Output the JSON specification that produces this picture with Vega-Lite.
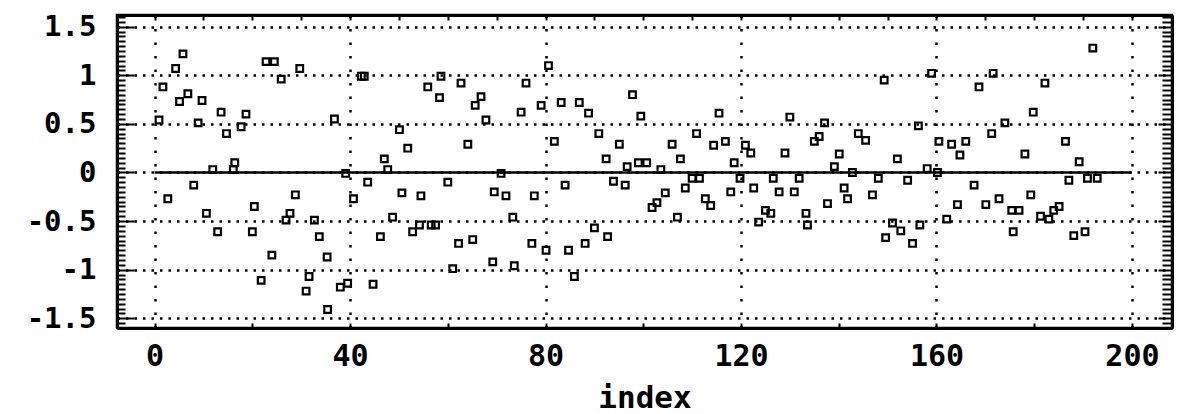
{
  "$schema": "https://vega.github.io/schema/vega-lite/v6.json",
  "width": 1055,
  "height": 313,
  "autosize": "none",
  "padding": {"left": 117, "top": 15, "right": 5, "bottom": 86},
  "background": "white",
  "config": {"view": {"stroke": "black", "strokeWidth": 2.5}, "font": "DejaVu Sans Mono"},
  "data": {"values": [
    {"index": 0.9, "value": 0.54}, {"index": 1.7, "value": 0.88}, {"index": 2.7, "value": -0.27}, {"index": 4.3, "value": 1.07},
    {"index": 5.1, "value": 0.73}, {"index": 5.8, "value": 1.22}, {"index": 6.8, "value": 0.81}, {"index": 8.0, "value": -0.13},
    {"index": 8.9, "value": 0.51}, {"index": 9.7, "value": 0.74}, {"index": 10.6, "value": -0.42}, {"index": 11.9, "value": 0.03},
    {"index": 12.9, "value": -0.61}, {"index": 13.6, "value": 0.62}, {"index": 14.7, "value": 0.40}, {"index": 16.1, "value": 0.03},
    {"index": 16.4, "value": 0.10}, {"index": 17.7, "value": 0.47}, {"index": 18.7, "value": 0.60}, {"index": 20.0, "value": -0.61},
    {"index": 20.4, "value": -0.35}, {"index": 21.8, "value": -1.11}, {"index": 22.8, "value": 1.14}, {"index": 24.0, "value": -0.85},
    {"index": 24.5, "value": 1.14}, {"index": 25.9, "value": 0.96}, {"index": 26.9, "value": -0.49}, {"index": 27.7, "value": -0.42},
    {"index": 28.8, "value": -0.23}, {"index": 29.7, "value": 1.07}, {"index": 31.0, "value": -1.22}, {"index": 31.6, "value": -1.07},
    {"index": 32.7, "value": -0.49}, {"index": 33.7, "value": -0.66}, {"index": 35.3, "value": -0.87}, {"index": 35.4, "value": -1.41},
    {"index": 36.8, "value": 0.55}, {"index": 38.0, "value": -1.18}, {"index": 39.1, "value": -0.01}, {"index": 39.5, "value": -1.14},
    {"index": 40.7, "value": -0.27}, {"index": 42.3, "value": 0.99}, {"index": 42.9, "value": 0.99}, {"index": 43.6, "value": -0.10},
    {"index": 44.7, "value": -1.15}, {"index": 46.2, "value": -0.66}, {"index": 47.0, "value": 0.14}, {"index": 47.7, "value": 0.03},
    {"index": 48.7, "value": -0.46}, {"index": 50.1, "value": 0.44}, {"index": 50.6, "value": -0.21}, {"index": 51.8, "value": 0.25},
    {"index": 52.8, "value": -0.61}, {"index": 54.2, "value": -0.54}, {"index": 54.5, "value": -0.24}, {"index": 55.9, "value": 0.88},
    {"index": 56.6, "value": -0.54}, {"index": 57.5, "value": -0.54}, {"index": 58.3, "value": 0.77}, {"index": 58.6, "value": 0.99},
    {"index": 60.0, "value": -0.10}, {"index": 61.0, "value": -0.99}, {"index": 62.2, "value": -0.73}, {"index": 62.7, "value": 0.92},
    {"index": 64.1, "value": 0.29}, {"index": 65.1, "value": -0.69}, {"index": 65.6, "value": 0.69}, {"index": 66.8, "value": 0.78},
    {"index": 67.8, "value": 0.54}, {"index": 69.2, "value": -0.92}, {"index": 69.5, "value": -0.20}, {"index": 70.9, "value": -0.01},
    {"index": 71.9, "value": -0.24}, {"index": 73.3, "value": -0.46}, {"index": 73.6, "value": -0.96}, {"index": 75.0, "value": 0.62},
    {"index": 76.0, "value": 0.92}, {"index": 77.2, "value": -0.73}, {"index": 77.7, "value": -0.24}, {"index": 79.1, "value": 0.69},
    {"index": 80.1, "value": -0.80}, {"index": 80.6, "value": 1.10}, {"index": 81.8, "value": 0.32}, {"index": 83.2, "value": 0.72},
    {"index": 84.0, "value": -0.13}, {"index": 84.7, "value": -0.80}, {"index": 85.9, "value": -1.07}, {"index": 86.9, "value": 0.72},
    {"index": 88.1, "value": -0.73}, {"index": 88.8, "value": 0.61}, {"index": 90.0, "value": -0.57}, {"index": 90.9, "value": 0.40},
    {"index": 92.4, "value": 0.14}, {"index": 92.7, "value": -0.66}, {"index": 93.9, "value": -0.09}, {"index": 95.1, "value": 0.29},
    {"index": 96.3, "value": -0.13}, {"index": 96.7, "value": 0.06}, {"index": 97.8, "value": 0.80}, {"index": 99.0, "value": 0.10},
    {"index": 99.5, "value": 0.58}, {"index": 100.7, "value": 0.10}, {"index": 101.8, "value": -0.36}, {"index": 102.8, "value": -0.31},
    {"index": 103.6, "value": 0.03}, {"index": 104.5, "value": -0.21}, {"index": 105.9, "value": 0.29}, {"index": 107.0, "value": -0.46},
    {"index": 107.6, "value": 0.14}, {"index": 108.6, "value": -0.16}, {"index": 110.0, "value": -0.06}, {"index": 110.9, "value": 0.40},
    {"index": 111.5, "value": -0.06}, {"index": 112.7, "value": -0.27}, {"index": 113.8, "value": -0.34}, {"index": 114.4, "value": 0.28},
    {"index": 115.5, "value": 0.61}, {"index": 116.8, "value": 0.32}, {"index": 117.9, "value": -0.20}, {"index": 118.6, "value": 0.10},
    {"index": 119.8, "value": -0.06}, {"index": 120.9, "value": 0.28}, {"index": 122.0, "value": 0.20}, {"index": 122.6, "value": -0.16},
    {"index": 123.6, "value": -0.51}, {"index": 125.0, "value": -0.39}, {"index": 126.1, "value": -0.42}, {"index": 126.6, "value": -0.06},
    {"index": 127.8, "value": -0.20}, {"index": 129.0, "value": 0.20}, {"index": 130.0, "value": 0.57}, {"index": 130.9, "value": -0.20},
    {"index": 131.9, "value": -0.06}, {"index": 133.3, "value": -0.42}, {"index": 133.6, "value": -0.54}, {"index": 135.0, "value": 0.32},
    {"index": 136.0, "value": 0.37}, {"index": 137.1, "value": 0.51}, {"index": 137.7, "value": -0.32}, {"index": 139.1, "value": 0.06},
    {"index": 140.1, "value": 0.19}, {"index": 141.1, "value": -0.16}, {"index": 141.8, "value": -0.27}, {"index": 142.8, "value": 0.00},
    {"index": 144.0, "value": 0.40}, {"index": 145.5, "value": 0.33}, {"index": 146.9, "value": -0.23}, {"index": 148.1, "value": -0.06},
    {"index": 149.3, "value": 0.95}, {"index": 149.6, "value": -0.67}, {"index": 151.0, "value": -0.52}, {"index": 152.0, "value": 0.14},
    {"index": 152.7, "value": -0.60}, {"index": 154.1, "value": -0.08}, {"index": 155.1, "value": -0.73}, {"index": 156.3, "value": 0.48},
    {"index": 156.6, "value": -0.54}, {"index": 158.1, "value": 0.04}, {"index": 159.0, "value": 1.02}, {"index": 160.2, "value": 0.00},
    {"index": 160.5, "value": 0.32}, {"index": 162.1, "value": -0.48}, {"index": 163.1, "value": 0.29}, {"index": 164.3, "value": -0.33},
    {"index": 164.8, "value": 0.18}, {"index": 166.0, "value": 0.32}, {"index": 167.7, "value": -0.13}, {"index": 168.7, "value": 0.88},
    {"index": 170.1, "value": -0.33}, {"index": 171.3, "value": 0.40}, {"index": 171.6, "value": 1.02}, {"index": 172.8, "value": -0.27},
    {"index": 174.0, "value": 0.51}, {"index": 175.4, "value": -0.39}, {"index": 175.7, "value": -0.61}, {"index": 176.9, "value": -0.39},
    {"index": 178.1, "value": 0.19}, {"index": 179.3, "value": -0.23}, {"index": 179.8, "value": 0.62}, {"index": 181.3, "value": -0.45},
    {"index": 182.2, "value": 0.92}, {"index": 183.0, "value": -0.48}, {"index": 184.0, "value": -0.39}, {"index": 185.1, "value": -0.35},
    {"index": 186.4, "value": 0.32}, {"index": 187.1, "value": -0.08}, {"index": 188.1, "value": -0.65}, {"index": 189.2, "value": 0.11},
    {"index": 190.4, "value": -0.61}, {"index": 190.9, "value": -0.06}, {"index": 192.0, "value": 1.28}, {"index": 192.9, "value": -0.06}
  ]},
  "layer": [
    {
      "mark": {"type": "point", "shape": "square", "filled": false, "color": "black", "strokeWidth": 2.2, "size": 44, "opacity": 1},
      "encoding": {
        "x": {
          "field": "index", "type": "quantitative",
          "scale": {"domain": [-7.7, 208.2], "nice": false, "zero": false},
          "axis": {
            "orient": "bottom",
            "values": [0, 20, 40, 60, 80, 100, 120, 140, 160, 180, 200],
            "labelExpr": "datum.value % 40 == 0 ? '' + datum.value : ''",
            "grid": true,
            "gridOpacity": {"condition": {"test": "datum.value % 40 == 0", "value": 1}, "value": 0},
            "gridColor": "black", "gridDash": [2.5, 11], "gridWidth": 2.5,
            "tickSize": -5, "tickColor": "black", "tickWidth": 2,
            "domain": true, "domainColor": "black", "domainWidth": 3,
            "labelFont": "DejaVu Sans Mono", "labelFontSize": 30, "labelFontWeight": "bold", "labelColor": "black",
            "labelPadding": 18,
            "title": "index", "titleFont": "DejaVu Sans Mono", "titleFontSize": 31, "titleFontWeight": "bold", "titleColor": "black",
            "titlePadding": 12
          }
        },
        "y": {
          "field": "value", "type": "quantitative",
          "scale": {"domain": [-1.6, 1.62], "nice": false, "zero": false},
          "axis": {
            "orient": "left",
            "values": [-1.6,-1.55,-1.5,-1.45,-1.4,-1.35,-1.3,-1.25,-1.2,-1.15,-1.1,-1.05,-1,-0.95,-0.9,-0.85,-0.8,-0.75,-0.7,-0.65,-0.6,-0.55,-0.5,-0.45,-0.4,-0.35,-0.3,-0.25,-0.2,-0.15,-0.1,-0.05,0,0.05,0.1,0.15,0.2,0.25,0.3,0.35,0.4,0.45,0.5,0.55,0.6,0.65,0.7,0.75,0.8,0.85,0.9,0.95,1,1.05,1.1,1.15,1.2,1.25,1.3,1.35,1.4,1.45,1.5,1.55,1.6],
            "labelExpr": "abs(datum.value * 2 - round(datum.value * 2)) < 0.01 && abs(datum.value) < 1.55 ? '' + datum.value : ''",
            "grid": true,
            "gridOpacity": {"condition": {"test": "abs(datum.value * 2 - round(datum.value * 2)) < 0.01 && abs(datum.value) < 1.55", "value": 1}, "value": 0},
            "gridColor": "black", "gridDash": [2.5, 6], "gridWidth": 2.5,
            "tickSize": {"condition": {"test": "abs(datum.value * 2 - round(datum.value * 2)) < 0.01", "value": -17}, "value": -8},
            "tickColor": "black", "tickWidth": 2,
            "domain": true, "domainColor": "black", "domainWidth": 3,
            "labelFont": "DejaVu Sans Mono", "labelFontSize": 29, "labelFontWeight": "bold", "labelColor": "black",
            "labelPadding": 38,
            "title": null
          }
        }
      }
    },
    {
      "data": {"values": [{"index": 0, "index_end": 200, "value": 0}]},
      "mark": {"type": "rule", "color": "black", "strokeWidth": 2.5},
      "encoding": {
        "x": {
          "field": "index", "type": "quantitative",
          "axis": {
            "orient": "top",
            "values": [0, 10, 20, 30, 40, 50, 60, 70, 80, 90, 100, 110, 120, 130, 140, 150, 160, 170, 180, 190, 200],
            "labels": false, "grid": false, "title": null,
            "tickSize": -5, "tickColor": "black", "tickWidth": 2,
            "domain": true, "domainColor": "black", "domainWidth": 3
          }
        },
        "x2": {"field": "index_end"},
        "y": {
          "field": "value", "type": "quantitative",
          "axis": {
            "orient": "right",
            "values": [-1.6,-1.55,-1.5,-1.45,-1.4,-1.35,-1.3,-1.25,-1.2,-1.15,-1.1,-1.05,-1,-0.95,-0.9,-0.85,-0.8,-0.75,-0.7,-0.65,-0.6,-0.55,-0.5,-0.45,-0.4,-0.35,-0.3,-0.25,-0.2,-0.15,-0.1,-0.05,0,0.05,0.1,0.15,0.2,0.25,0.3,0.35,0.4,0.45,0.5,0.55,0.6,0.65,0.7,0.75,0.8,0.85,0.9,0.95,1,1.05,1.1,1.15,1.2,1.25,1.3,1.35,1.4,1.45,1.5,1.55,1.6],
            "labels": false, "grid": false, "title": null,
            "tickSize": {"condition": {"test": "abs(datum.value * 2 - round(datum.value * 2)) < 0.01", "value": -14}, "value": -10},
            "tickColor": "black", "tickWidth": 2,
            "domain": true, "domainColor": "black", "domainWidth": 3
          }
        }
      }
    }
  ],
  "resolve": {"axis": {"x": "independent", "y": "independent"}}
}
